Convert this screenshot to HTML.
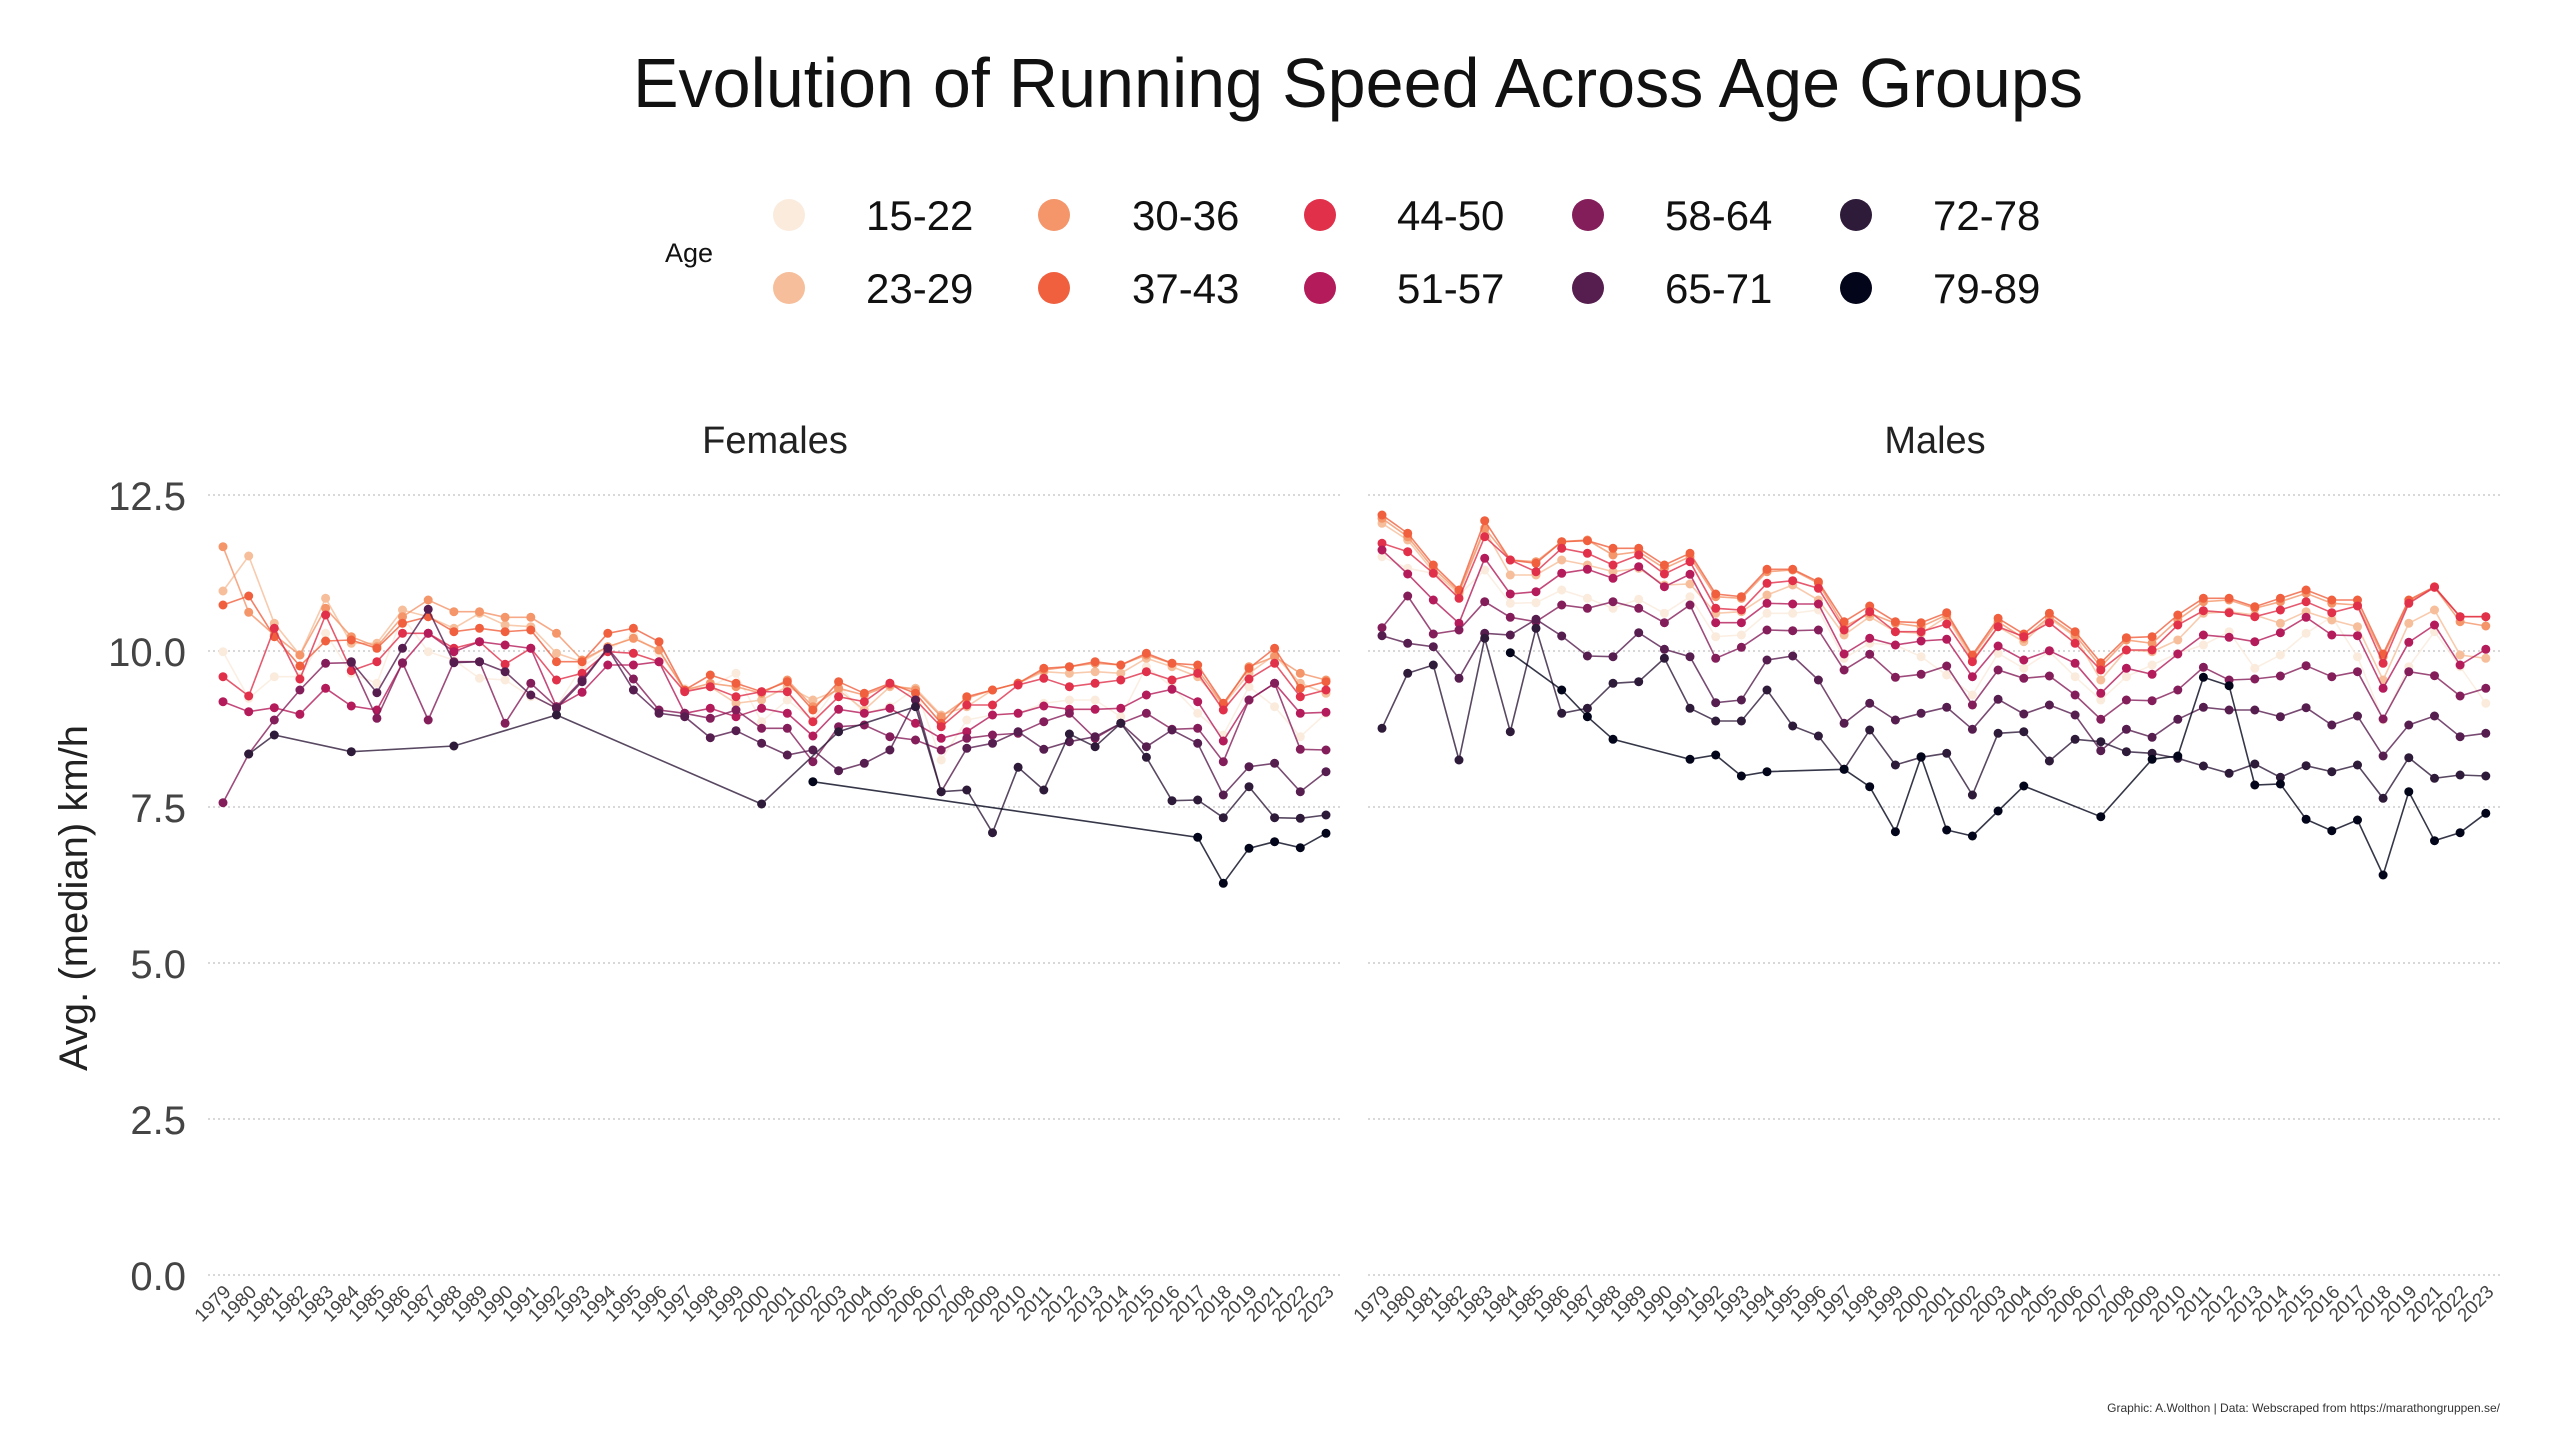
<!DOCTYPE html>
<html><head><meta charset="utf-8">
<style>
html,body{margin:0;padding:0;background:#fff;}
svg{display:block;font-family:"Liberation Sans",sans-serif;}
</style></head>
<body>
<svg id="s" width="2560" height="1440" viewBox="0 0 2560 1440" xmlns="http://www.w3.org/2000/svg">
<rect width="2560" height="1440" fill="#fff"/>
<text x="1358" y="107" font-size="70" text-anchor="middle" fill="#111" textLength="1450" lengthAdjust="spacingAndGlyphs">Evolution of Running Speed Across Age Groups</text>
<text x="665" y="262" font-size="27" fill="#111">Age</text>
<g font-size="42" fill="#111">
<circle cx="789" cy="215" r="16" fill="#FAEBDD"/><text x="866" y="230">15-22</text>
<circle cx="789" cy="288" r="16" fill="#F6BE9A"/><text x="866" y="303">23-29</text>
<circle cx="1054" cy="215" r="16" fill="#F4956A"/><text x="1132" y="230">30-36</text>
<circle cx="1054" cy="288" r="16" fill="#F0603F"/><text x="1132" y="303">37-43</text>
<circle cx="1320" cy="215" r="16" fill="#E0304A"/><text x="1397" y="230">44-50</text>
<circle cx="1320" cy="288" r="16" fill="#B41B5A"/><text x="1397" y="303">51-57</text>
<circle cx="1588" cy="215" r="16" fill="#841E5A"/><text x="1665" y="230">58-64</text>
<circle cx="1588" cy="288" r="16" fill="#561D4F"/><text x="1665" y="303">65-71</text>
<circle cx="1856" cy="215" r="16" fill="#2E1A39"/><text x="1933" y="230">72-78</text>
<circle cx="1856" cy="288" r="16" fill="#03051A"/><text x="1933" y="303">79-89</text>
</g>
<text x="775" y="453" font-size="38" text-anchor="middle" fill="#222">Females</text>
<text x="1935" y="453" font-size="38" text-anchor="middle" fill="#222">Males</text>
<text transform="translate(87,898) rotate(-90)" font-size="40" text-anchor="middle" fill="#222">Avg. (median) km/h</text>
<g font-size="40" fill="#444" text-anchor="end">
<text x="186" y="510">12.5</text>
<text x="186" y="666">10.0</text>
<text x="186" y="822">7.5</text>
<text x="186" y="978">5.0</text>
<text x="186" y="1134">2.5</text>
<text x="186" y="1290">0.0</text>
</g>
<g id="grid"></g>
<g id="plot"></g>
<g id="xl" font-size="19" fill="#444" text-anchor="end"></g>
<text x="2500" y="1412" font-size="12" text-anchor="end" fill="#333">Graphic: A.Wolthon | Data: Webscraped from https://marathongruppen.se/</text>
</svg>
<script>
var NS="http://www.w3.org/2000/svg";
function el(t,a,p){var e=document.createElementNS(NS,t);for(var k in a)e.setAttribute(k,a[k]);p.appendChild(e);return e;}
var grid=document.getElementById('grid'),plot=document.getElementById('plot'),xl=document.getElementById('xl');
[495,651,807,963,1119,1275].forEach(function(y){
 el('line',{x1:208,x2:1342,y1:y,y2:y,stroke:'#ccc','stroke-width':1.5,'stroke-dasharray':'2,3'},grid);
 el('line',{x1:1368,x2:2500,y1:y,y2:y,stroke:'#ccc','stroke-width':1.5,'stroke-dasharray':'2,3'},grid);
});
var years=[];for(var y=1979;y<=2023;y++){if(y!=2020)years.push(y);}
var cols=["#FAEBDD","#F6BE9A","#F4956A","#F0603F","#E0304A","#B41B5A","#841E5A","#561D4F","#2E1A39","#03051A"];
function arr(a){var o={};a.forEach(function(v,i){if(v!=null)o[i]=v;});return o;}
var F=[
arr([515,655,590,590,460,580,610,410,515,540,595,600,650,680,560,510,465,520,625,620,580,725,660,720,615,700,680,625,840,720,705,700,670,660,660,710,560,620,700,765,620,680,770,700]),
arr([333,228,430,525,355,490,490,390,410,445,400,435,440,520,545,500,475,510,630,620,670,660,620,660,630,690,620,625,705,680,630,610,575,580,575,580,535,560,590,675,580,525,610,640]),
arr([200,397,465,525,385,470,500,410,360,395,395,412,412,460,540,500,475,510,630,610,620,640,600,680,625,645,615,630,710,655,630,610,570,560,550,555,525,550,570,675,560,530,580,600]),
arr([375,348,470,558,483,480,505,430,410,455,445,455,450,545,545,460,445,485,630,585,610,635,605,690,605,640,610,640,730,650,630,610,565,560,545,555,520,550,555,670,565,505,625,605]),
arr([590,648,445,597,405,572,545,460,460,505,485,553,505,600,580,515,520,545,635,620,650,635,635,725,650,665,610,660,740,675,675,615,595,620,610,600,575,600,580,690,597,550,650,630]),
arr([665,695,683,703,625,678,690,550,460,515,485,495,505,680,637,555,555,545,700,685,710,685,700,768,688,700,685,730,775,755,705,700,678,688,688,685,645,628,665,783,660,610,700,697]),
arr([968,822,720,630,550,548,715,548,720,545,545,730,610,680,600,505,597,690,700,715,690,745,745,845,740,735,770,780,810,775,765,760,725,700,775,730,700,748,745,845,660,610,808,810]),
arr([null,null,null,null,null,545,638,505,388,548,545,575,645,685,605,505,630,700,710,773,752,790,825,810,872,850,810,660,935,805,790,755,808,785,770,730,800,750,790,945,860,850,935,875]),
arr([null,822,765,null,null,815,null,null,null,798,null,null,null,705,null,null,null,null,null,null,null,972,null,null,755,null,null,680,935,930,1058,862,930,762,800,730,832,962,960,1013,920,1013,1015,1005]),
arr([null,null,null,null,null,null,null,null,null,null,null,null,null,null,null,null,null,null,null,null,null,null,null,905,null,null,null,null,null,null,null,null,null,null,null,null,null,null,1072,1210,1105,1085,1103,1060])
];
var M=[
arr([230,265,280,345,270,370,368,330,355,385,358,400,350,470,465,400,400,390,535,490,495,530,585,645,520,565,515,590,660,590,555,520,495,455,565,525,460,410,530,720,560,455,560,670]),
arr([130,180,275,340,150,285,285,240,255,275,265,315,312,400,395,345,315,360,465,410,455,460,410,540,440,485,415,470,600,510,515,480,400,395,405,430,395,420,440,600,430,390,525,535]),
arr([115,170,265,335,145,240,245,185,180,225,215,265,230,350,355,275,270,310,440,400,430,440,405,530,425,475,410,465,560,480,490,420,365,360,385,365,340,370,375,530,365,322,425,438]),
arr([105,160,255,330,122,240,250,185,182,205,205,255,220,342,350,268,268,305,425,378,425,428,398,525,415,462,400,455,548,473,470,405,355,355,380,355,330,360,360,522,360,320,410,410]),
arr([190,215,280,355,170,240,275,205,220,255,225,282,245,385,390,310,302,325,450,395,455,455,432,545,440,470,428,490,570,510,510,435,392,398,410,390,365,398,378,550,370,322,410,410]),
arr([210,282,360,430,235,342,335,280,268,295,260,320,283,428,428,370,372,372,522,475,495,483,478,590,498,540,512,550,640,565,583,522,465,472,485,458,412,465,467,625,487,435,555,508]),
arr([443,348,462,450,365,412,425,375,385,365,385,428,375,535,502,450,452,450,570,523,592,583,558,675,570,595,588,645,718,660,662,630,562,600,597,588,557,590,575,717,575,587,648,625]),
arr([467,490,500,595,460,465,418,468,528,530,458,508,530,668,660,540,528,600,730,670,720,700,682,748,658,702,675,705,812,748,772,718,682,690,690,710,683,735,708,828,735,708,770,760]),
arr([745,580,555,840,475,755,445,700,685,610,605,535,685,723,723,630,738,768,868,750,855,832,820,945,760,755,843,778,785,815,820,835,858,880,852,892,857,875,855,955,833,895,885,888]),
arr([null,null,null,null,null,518,null,630,710,778,null,null,838,825,888,875,null,null,868,920,1055,830,1050,1068,993,918,null,null,1010,null,838,828,592,617,915,912,1018,1052,1020,1185,935,1082,1058,1000])
];
function draw(data,x0,step){
 data.forEach(function(s,k){
  var pts=[];Object.keys(s).map(Number).sort(function(a,b){return a-b}).forEach(function(i){pts.push([x0+i*step,480+s[i]/3]);});
  var c=cols[k];
  el('polyline',{points:pts.map(function(p){return p[0].toFixed(1)+','+p[1].toFixed(1)}).join(' '),fill:'none',stroke:c,'stroke-width':1.6,'stroke-opacity':0.8},plot);
  pts.forEach(function(p){el('circle',{cx:p[0].toFixed(1),cy:p[1].toFixed(1),r:4.5,fill:c},plot);});
 });
 years.forEach(function(yr,i){
  var x=x0+i*step+9;
  var t=el('text',{transform:'translate('+x.toFixed(1)+',1293) rotate(-45)'},xl);t.textContent=yr;
 });
}
draw(F,223,25.65);draw(M,1382,25.67);
</script>
</body></html>
